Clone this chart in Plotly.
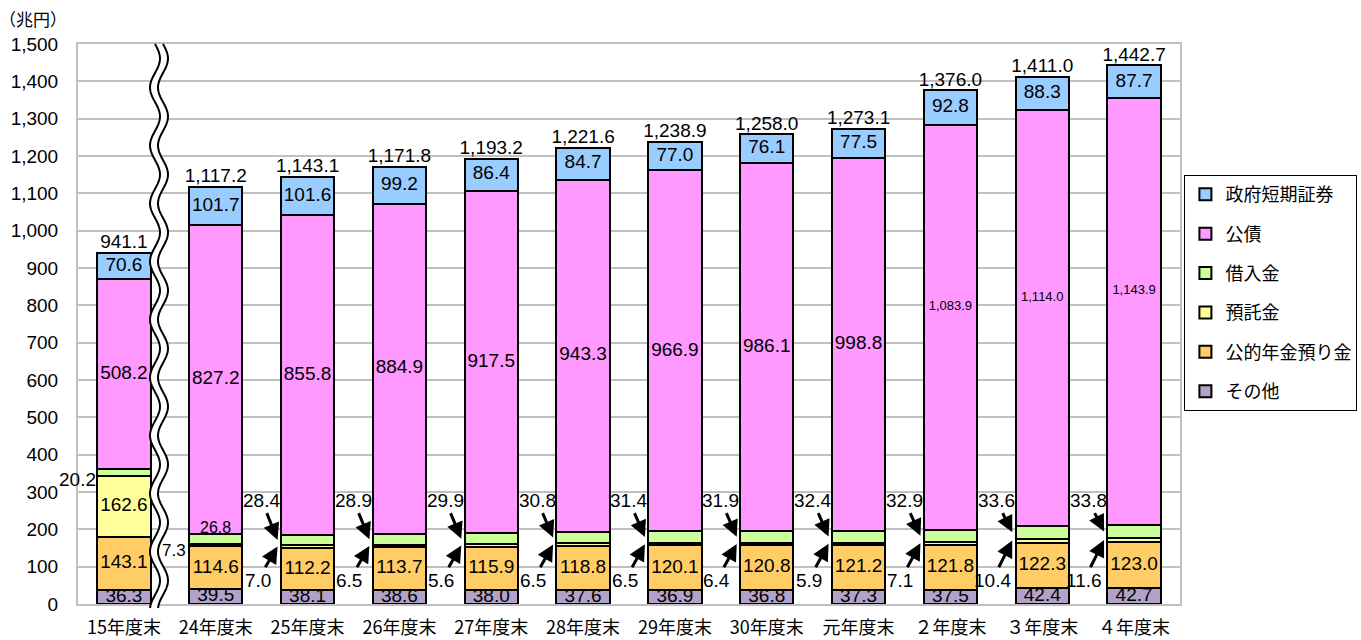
import numpy as np
import plotly.graph_objects as go

categories = ["15年度末", "24年度末", "25年度末", "26年度末", "27年度末", "28年度末",
              "29年度末", "30年度末", "元年度末", "２年度末", "３年度末", "４年度末"]
other = [36.3, 39.5, 38.1, 38.6, 38.0, 37.6, 36.9, 36.8, 37.3, 37.5, 42.4, 42.7]
pension = [143.1, 114.6, 112.2, 113.7, 115.9, 118.8, 120.1, 120.8, 121.2, 121.8, 122.3, 123.0]
deposit = [162.6, 7.3, 7.0, 6.5, 5.6, 6.5, 6.5, 6.4, 5.9, 7.1, 10.4, 11.6]
borrow = [20.2, 26.8, 28.4, 28.9, 29.9, 30.8, 31.4, 31.9, 32.4, 32.9, 33.6, 33.8]
bonds = [508.2, 827.2, 855.8, 884.9, 917.5, 943.3, 966.9, 986.1, 998.8, 1083.9, 1114.0, 1143.9]
fbills = [70.6, 101.7, 101.6, 99.2, 86.4, 84.7, 77.0, 76.1, 77.5, 92.8, 88.3, 87.7]
totals = [941.1, 1117.2, 1143.1, 1171.8, 1193.2, 1221.6, 1238.9, 1258.0, 1273.1, 1376.0, 1411.0, 1442.7]

series = [
    ("その他", other, "#B3A2C7"),
    ("公的年金預り金", pension, "#FFCC66"),
    ("預託金", deposit, "#FFFF99"),
    ("借入金", borrow, "#CCFF99"),
    ("公債", bonds, "#FF99FF"),
    ("政府短期証券", fbills, "#99CCFF"),
]

FONT = "Liberation Sans, Noto Sans CJK JP, sans-serif"
JFONT = "Noto Sans CJK JP, sans-serif"
LSIZE = 19

fig = go.Figure()
for i, (name, vals, col) in enumerate(series):
    fig.add_trace(go.Bar(
        x=categories, y=vals, name=name, legendgroup=name, legendrank=len(series) - i,
        marker=dict(color=col, line=dict(color="black", width=2)),
    ))

arr = np.array([other, pension, deposit, borrow, bonds, fbills])
cum = np.cumsum(arr, axis=0)
base = cum - arr
mid = base + arr / 2

def text_trace(xs, ys, texts, size, clip=False, pos="middle center"):
    return go.Scatter(x=xs, y=ys, mode="text", text=texts, textposition=pos,
                      textfont=dict(size=size, color="black", family=FONT),
                      cliponaxis=clip, showlegend=False, hoverinfo="skip")

fig.add_trace(text_trace(categories, mid[0], [f"{v:.1f}" for v in other], LSIZE, clip=True))
fig.add_trace(text_trace(categories, mid[1], [f"{v:.1f}" for v in pension], LSIZE))
fig.add_trace(text_trace(categories[:1], mid[2][:1], [f"{deposit[0]:.1f}"], LSIZE))
big = [i for i, v in enumerate(bonds) if v < 1000]
small = [i for i, v in enumerate(bonds) if v >= 1000]
fig.add_trace(text_trace([categories[i] for i in big], [mid[4][i] for i in big],
                         [f"{bonds[i]:,.1f}" for i in big], LSIZE))
fig.add_trace(text_trace([categories[i] for i in small], [mid[4][i] + 55 for i in small],
                         [f"{bonds[i]:,.1f}" for i in small], 13))
fig.add_trace(text_trace(categories, mid[5], [f"{v:.1f}" for v in fbills], LSIZE))
fig.add_trace(text_trace(categories, totals, [f"{v:,.1f}" for v in totals], LSIZE, pos="top center"))

ann = []
ann.append(dict(x=categories[0], y=334, xref="x", yref="y", text=f"{borrow[0]:.1f}",
                showarrow=False, xanchor="right", xshift=-26,
                font=dict(size=LSIZE, color="black", family=FONT)))
ann.append(dict(x=categories[1], y=204, xref="x", yref="y", text=f"{borrow[1]:.1f}",
                showarrow=False, font=dict(size=16, color="black", family=FONT)))
ann.append(dict(x=categories[1], y=142, xref="x", yref="y", text=f"{deposit[1]:.1f}",
                showarrow=False, xanchor="right", xshift=-28,
                font=dict(size=17, color="black", family=FONT)))
for i in range(2, len(categories)):
    ann.append(dict(x=categories[i], y=mid[3][i], xref="x", yref="y",
                    text=f"{borrow[i]:.1f}", showarrow=True,
                    axref="pixel", ax=-16, ayref="y", ay=278, xshift=-30,
                    arrowhead=2, arrowsize=1.1, arrowwidth=3, arrowcolor="black",
                    standoff=0, startstandoff=1,
                    font=dict(size=LSIZE, color="black", family=FONT)))
    ann.append(dict(x=categories[i], y=mid[2][i], xref="x", yref="y",
                    text=f"{deposit[i]:.1f}", showarrow=True,
                    axref="pixel", ax=-20, ayref="y", ay=64, xshift=-30,
                    arrowhead=2, arrowsize=1.1, arrowwidth=3, arrowcolor="black",
                    standoff=0, startstandoff=1,
                    font=dict(size=LSIZE, color="black", family=FONT)))
ann.append(dict(x=-0.041, y=1.046, xref="paper", yref="paper", text="（兆円）",
                showarrow=False, xanchor="center", yanchor="middle",
                font=dict(size=17, color="black", family=JFONT)))

# wavy break marks (decoration)
L, R, T, B = 78, 1180, 44, 604
W, H = R - L, B - T
def px(xp, yp):
    return (xp - L) / W, (B - yp) / H
ys = np.linspace(44, 608, 300)
xc = 159 + 5 * np.sin((ys - 44) / 58 * 2 * np.pi)
left = [px(x - 4, y) for x, y in zip(xc, ys)]
right = [px(x + 4, y) for x, y in zip(xc, ys)]
def path(pts):
    return "M" + " L".join(f"{a:.5f},{b:.5f}" for a, b in pts)
fill_path = path(left + right[::-1]) + " Z"
shapes = [
    dict(type="path", path=fill_path, xref="paper", yref="paper",
         fillcolor="white", line=dict(width=0), layer="above"),
    dict(type="path", path=path(left), xref="paper", yref="paper",
         line=dict(color="black", width=2), layer="above"),
    dict(type="path", path=path(right), xref="paper", yref="paper",
         line=dict(color="black", width=2), layer="above"),
]

fig.update_layout(
    width=1361, height=640,
    margin=dict(l=L, r=1361 - R, t=T, b=640 - B, autoexpand=False),
    barmode="stack", bargap=0.42,
    plot_bgcolor="white", paper_bgcolor="white",
    font=dict(family=FONT, size=18, color="black"),
    showlegend=True,
    legend=dict(x=1.004, y=0.766, xanchor="left", yanchor="top",
                traceorder="grouped", tracegroupgap=13, itemwidth=30,
                bordercolor="black", borderwidth=1, bgcolor="white",
                font=dict(family=JFONT, size=18, color="black")),
    annotations=ann, shapes=shapes,
    xaxis=dict(type="category", range=[-0.5, len(categories) - 0.5],
               showgrid=False, showline=True, mirror=True,
               linecolor="#C0C0C0", linewidth=2,
               ticks="outside", ticklen=6, tickcolor="rgba(0,0,0,0)",
               tickfont=dict(family=JFONT, size=18, color="black")),
    yaxis=dict(range=[0, 1500], dtick=100, tickformat=",", showgrid=True,
               gridcolor="#C0C0C0", gridwidth=2, showline=True, mirror=True,
               linecolor="#C0C0C0", linewidth=2, zeroline=False,
               ticks="outside", ticklen=14, tickcolor="rgba(0,0,0,0)",
               tickfont=dict(family=FONT, size=19, color="black")),
)

fig.write_html("out.html", config={"displayModeBar": False},
               post_script="document.body.style.margin='0';")
